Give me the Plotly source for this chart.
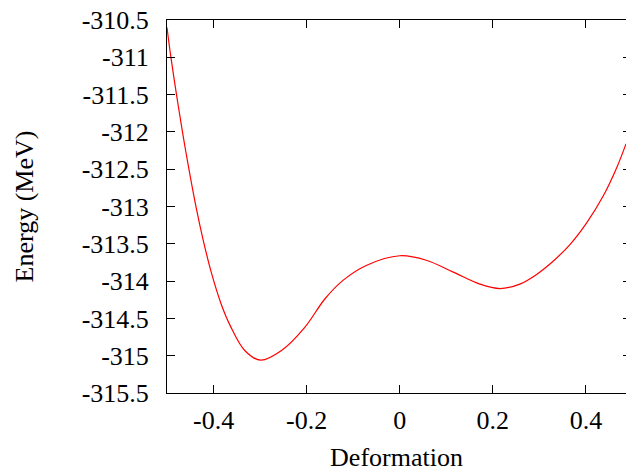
import plotly.graph_objects as go

deformation = [-0.5, -0.4925, -0.4796, -0.466, -0.4538, -0.4372, -0.423, -0.405, -0.3835,
               -0.364, -0.333, -0.299, -0.254, -0.204, -0.161, -0.122, -0.072, 0.0,
               0.057, 0.115, 0.172, 0.215, 0.258, 0.294, 0.33, 0.3656, 0.4015, 0.437,
               0.466, 0.486]
energy = [-310.60, -310.96, -311.50, -312.03, -312.47, -313.02, -313.43, -313.88, -314.31,
          -314.60, -314.93, -315.06, -314.93, -314.62, -314.24, -313.99, -313.79, -313.66,
          -313.72, -313.88, -314.04, -314.10, -314.04, -313.91, -313.73, -313.51, -313.22,
          -312.86, -312.48, -312.16]

x_ticks = [-0.4, -0.2, 0, 0.2, 0.4]
x_tick_labels = ["-0.4", "-0.2", "0", "0.2", "0.4"]
y_ticks = [-315.5, -315, -314.5, -314, -313.5, -313, -312.5, -312, -311.5, -311, -310.5]
y_tick_labels = ["-315.5", "-315", "-314.5", "-314", "-313.5", "-313", "-312.5",
                 "-312", "-311.5", "-311", "-310.5"]

x_range = [-0.5, 0.486]
y_range = [-315.5, -310.5]

font = dict(family="Liberation Serif, Times New Roman, serif", size=26, color="black")

fig = go.Figure()
fig.add_trace(go.Scatter(x=deformation, y=energy, mode="lines",
                         line=dict(color="red", width=1.2, shape="spline", smoothing=1.0),
                         showlegend=False, hoverinfo="skip"))
fig.add_trace(go.Scatter(x=[], y=[], xaxis="x2", yaxis="y2", showlegend=False, hoverinfo="skip"))

fig.update_layout(
    width=626, height=472,
    margin=dict(l=167, r=0, t=20, b=79),
    paper_bgcolor="white", plot_bgcolor="white",
    font=font,
    xaxis=dict(range=x_range, tickvals=x_ticks, ticktext=x_tick_labels,
               ticks="inside", ticklen=8, tickcolor="black", tickwidth=1,
               showline=True, linecolor="black", linewidth=1, mirror="ticks",
               showgrid=False, zeroline=False, ticklabelstandoff=4, automargin=False,
               ticklabeloverflow="allow",
               title=dict(text="Deformation", font=font, standoff=15)),
    xaxis2=dict(range=x_range, tickvals=x_ticks, overlaying="x", side="top",
                ticks="inside", ticklen=8, tickcolor="black", tickwidth=1,
                showline=True, linecolor="black", linewidth=1,
                showgrid=False, zeroline=False, showticklabels=False, automargin=False),
    yaxis=dict(range=y_range, tickvals=y_ticks, ticktext=y_tick_labels,
               ticks="inside", ticklen=8, tickcolor="black", tickwidth=1,
               showline=True, linecolor="black", linewidth=1,
               showgrid=False, zeroline=False, ticklabelstandoff=12, automargin=False,
               ticklabeloverflow="allow",
               title=dict(text="Energy (MeV)", font=font, standoff=40)),
    yaxis2=dict(range=y_range, tickvals=y_ticks, overlaying="y", side="right",
                ticks="inside", ticklen=3, tickcolor="black", tickwidth=1,
                showline=False, showgrid=False, zeroline=False, showticklabels=False,
                automargin=False),
)

fig.write_html("out.html", config={"displayModeBar": False},
               post_script="document.body.style.margin='0';document.body.style.overflow='hidden';")
